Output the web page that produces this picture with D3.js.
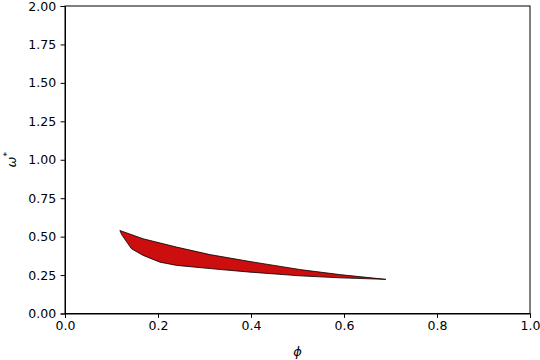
<!DOCTYPE html>
<html>
<head>
<meta charset="utf-8">
<script src="https://cdn.jsdelivr.net/npm/d3@7"></script>
<style>
  body { margin: 0; background: #fff; }
  .axis text { font-family: "DejaVu Sans", sans-serif; font-size: 12.5px; fill: #000; }
  .axis path, .axis line { stroke: #000; stroke-width: 1; }
  .label { font-family: "DejaVu Sans", sans-serif; font-size: 13px; }
</style>
</head>
<body>
<svg id="chart"></svg>
<script>
// upper edge of the region, left to right
var upperPhi   = [0.118, 0.168, 0.240, 0.312, 0.398, 0.505, 0.591, 0.690];
var upperOmega = [0.540, 0.486, 0.432, 0.383, 0.338, 0.286, 0.253, 0.222];
// lower edge of the region, left to right
var lowerPhi   = [0.122, 0.143, 0.168, 0.204, 0.240, 0.312, 0.398, 0.505, 0.591, 0.690];
var lowerOmega = [0.512, 0.421, 0.378, 0.334, 0.313, 0.292, 0.269, 0.245, 0.232, 0.222];

var xTicks = [0, 0.2, 0.4, 0.6, 0.8, 1.0];
var yTicks = [0, 0.25, 0.5, 0.75, 1.0, 1.25, 1.5, 1.75, 2.0];

var screen = {width: 540, height: 360};
var margins = {top: 6, bottom: 46.5, left: 65, right: 10};
var graph = {
    width: screen.width - margins.left - margins.right,
    height: screen.height - margins.top - margins.bottom
};

var svg = d3.select("#chart")
    .attr("width", screen.width)
    .attr("height", screen.height);

var xScale = d3.scaleLinear().domain([0, 1]).range([0, graph.width]);
var yScale = d3.scaleLinear().domain([0, 2]).range([graph.height, 0]);

var g = svg.append("g")
    .attr("transform", "translate(" + margins.left + "," + margins.top + ")");

// build the closed outline: upper edge forward, lower edge back
var pts = [];
upperPhi.forEach(function(p, i) { pts.push([p, upperOmega[i]]); });
for (var i = lowerPhi.length - 1; i >= 0; i--) {
    pts.push([lowerPhi[i], lowerOmega[i]]);
}

var line = d3.line()
    .x(function(d) { return xScale(d[0]); })
    .y(function(d) { return yScale(d[1]); });

g.append("path")
    .attr("d", line(pts) + "Z")
    .attr("fill", "#cc0e0e")
    .attr("stroke", "#000")
    .attr("stroke-width", 0.8)
    .attr("stroke-linejoin", "round");

// axes
g.append("g")
    .classed("axis", true)
    .attr("transform", "translate(0," + graph.height + ")")
    .call(d3.axisBottom(xScale).tickValues(xTicks).tickSize(4.4).tickPadding(3.5)
        .tickFormat(d3.format(".1f")));
g.append("g")
    .classed("axis", true)
    .call(d3.axisLeft(yScale).tickValues(yTicks).tickSize(4.4).tickPadding(4.5)
        .tickFormat(d3.format(".2f")));

// frame
g.append("rect")
    .attr("width", graph.width)
    .attr("height", graph.height)
    .attr("fill", "none")
    .attr("stroke", "#000")
    .attr("stroke-width", 1);

// axis titles
svg.append("text")
    .classed("label", true)
    .attr("text-anchor", "middle")
    .attr("x", margins.left + graph.width / 2)
    .attr("y", 356)
    .attr("font-style", "italic")
    .text("\u03D5");

var yl = svg.append("text")
    .classed("label", true)
    .attr("text-anchor", "middle")
    .attr("transform", "translate(16," + (margins.top + graph.height / 2) + ") rotate(-90)");
yl.append("tspan").attr("font-style", "italic").text("\u03C9");
yl.append("tspan").attr("dy", -6).attr("font-size", "9px").text("*");
</script>
</body>
</html>
